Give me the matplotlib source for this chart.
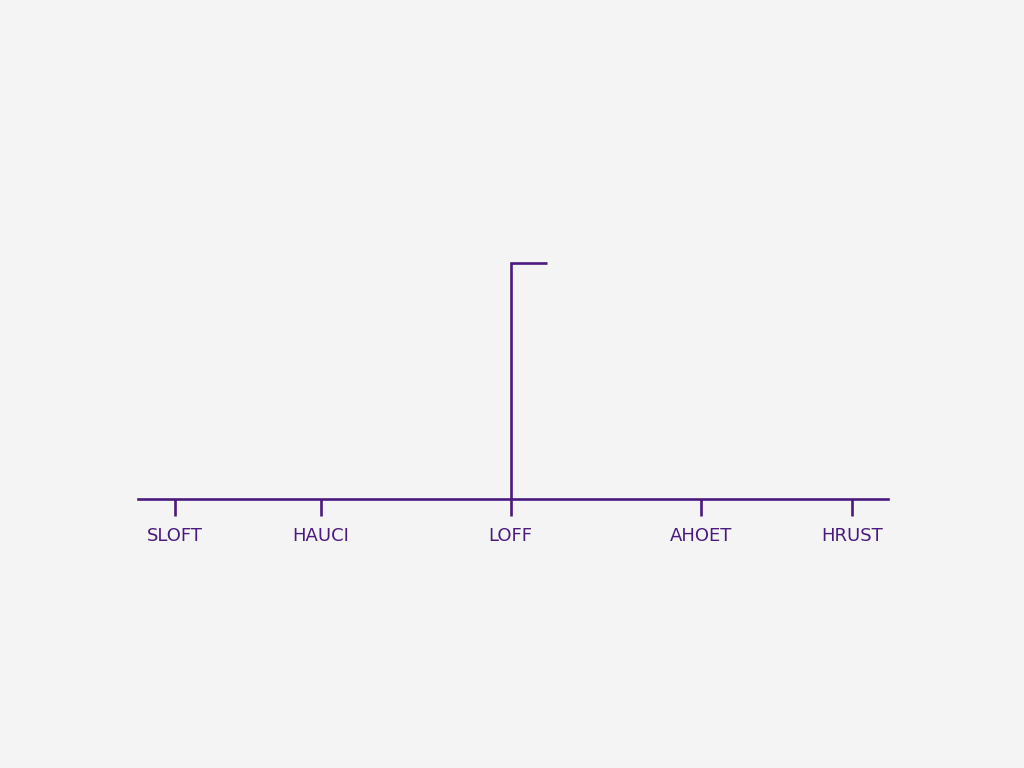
import numpy as np
import matplotlib.pyplot as plt

# categories and their spots along the axis
categories = ['SLOFT', 'HAUCI', 'LOFF', 'AHOET', 'HRUST']
positions = [0.49, 2.44, 4.97, 7.51, 9.52]
values = [0, 0, 79, 0, 0]
flag_len = 0.48

purple = '#4b1a7e'
bg = '#f4f4f4'

fig = plt.figure(figsize=(10.24, 7.68), dpi=100, facecolor=bg)
ax = fig.add_axes([138 / 1024, 1 - 499 / 768, 750 / 1024, 299 / 768], facecolor=bg)

for x, v in zip(positions, values):
    if v > 0:
        ax.plot([x, x, x + flag_len], [0, v, v], color=purple, lw=1.9,
                solid_joinstyle='miter', solid_capstyle='butt')

ax.set_xlim(0, 10)
ax.set_ylim(0, 100)

for side in ['top', 'right', 'left']:
    ax.spines[side].set_visible(False)
ax.spines['bottom'].set_color(purple)
ax.spines['bottom'].set_linewidth(1.9)

ax.set_yticks([])
ax.set_xticks(positions)
ax.set_xticklabels(categories)
ax.tick_params(axis='x', direction='out', length=12, width=1.9, color=purple,
               labelcolor=purple, labelsize=13, pad=8)

fig.savefig('out.png', dpi=100, facecolor=bg)
